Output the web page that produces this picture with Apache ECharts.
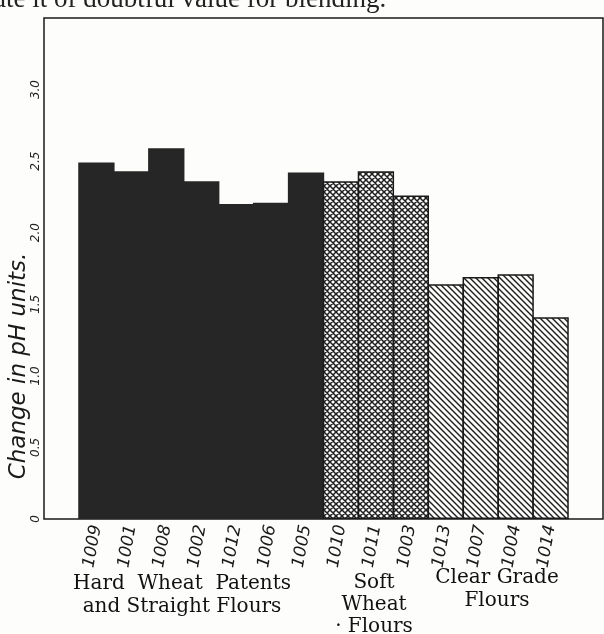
<!DOCTYPE html>
<html>
<head>
<meta charset="utf-8">
<script src="https://cdn.jsdelivr.net/npm/echarts@6/dist/echarts.min.js"></script>
<style>
html,body{margin:0;padding:0;background:#fdfdfc;}
#chart{width:604px;height:634px;}
</style>
</head>
<body>
<div id="chart"></div>
<script>
// ---- data ----
const categories = ['1009','1001','1008','1002','1012','1006','1005','1010','1011','1003','1013','1007','1004','1014'];
const hardValues = [2.49, 2.43, 2.59, 2.36, 2.20, 2.21, 2.42];
const softValues = [2.36, 2.43, 2.26];
const clearValues = [1.64, 1.69, 1.71, 1.41];
const yTickLabels = ['0', '0.5', '1.0', '1.5', '2.0', '2.5', '3.0'];
const groupNames = ['Hard  Wheat  Patents\nand Straight Flours', 'Soft\nWheat\n· Flours', 'Clear Grade\nFlours'];

// ---- patterns ----
function hatch(size, cross, lw) {
  const c = document.createElement('canvas');
  c.width = size; c.height = size;
  const g = c.getContext('2d');
  g.fillStyle = '#fbfbfa'; g.fillRect(0, 0, size, size);
  g.strokeStyle = '#1e1e1e'; g.lineWidth = lw;
  g.beginPath();
  g.moveTo(-1, -1); g.lineTo(size + 1, size + 1);
  g.moveTo(-1, size - 1); g.lineTo(1, size + 1);
  g.moveTo(size - 1, -1); g.lineTo(size + 1, 1);
  if (cross) {
    g.moveTo(-1, size + 1); g.lineTo(size + 1, -1);
    g.moveTo(-1, 1); g.lineTo(1, -1);
    g.moveTo(size - 1, size + 1); g.lineTo(size + 1, size - 1);
  }
  g.stroke();
  return c;
}
const crossPat = { image: hatch(6, true, 1.5), repeat: 'repeat' };
const diagPat = { image: hatch(6, false, 1.4), repeat: 'repeat' };

const xData = [''].concat(categories, ['']);
const nH = hardValues.length, nS = softValues.length;
function place(vals, offset) {
  const arr = new Array(xData.length).fill('-');
  vals.forEach((v, i) => { arr[1 + offset + i] = v; });
  return arr;
}

const chart = echarts.init(document.getElementById('chart'));
const option = {
  animation: false,
  backgroundColor: '#fdfdfc',
  grid: { left: 44, right: 1, top: 18, bottom: 115, show: true, borderColor: '#1a1a1a', borderWidth: 1.5, backgroundColor: 'transparent' },
  xAxis: {
    type: 'category',
    data: xData,
    boundaryGap: true,
    axisLine: { show: false },
    axisTick: { show: false },
    axisLabel: {
      interval: 0, rotate: 80, margin: 6,
      fontFamily: 'DejaVu Sans', fontStyle: 'italic', fontSize: 17, color: '#1a1a1a'
    }
  },
  yAxis: {
    type: 'value', min: 0, max: 3.5, interval: 0.5,
    splitLine: { show: false },
    axisLine: { show: false },
    axisTick: { show: false },
    axisLabel: {
      showMaxLabel: false, rotate: 90, margin: 2,
      fontFamily: 'DejaVu Sans', fontStyle: 'italic', fontSize: 12, color: '#222',
      formatter: (v) => { const i = Math.round(v / 0.5); return i < yTickLabels.length ? yTickLabels[i] : ''; }
    }
  },
  series: [
    { name: 'Hard', type: 'bar', data: place(hardValues, 0), barWidth: '104%', barGap: '-100%',
      itemStyle: { color: '#262626', borderWidth: 0 } },
    { name: 'Soft', type: 'bar', data: place(softValues, nH), barWidth: '104%', barGap: '-100%',
      itemStyle: { color: crossPat, borderColor: '#1a1a1a', borderWidth: 1.5 } },
    { name: 'Clear', type: 'bar', data: place(clearValues, nH + nS), barWidth: '104%', barGap: '-100%',
      itemStyle: { color: diagPat, borderColor: '#1a1a1a', borderWidth: 1.5 } }
  ],
  graphic: [
    { type: 'text', left: -6, top: -14, style: { text: 'ate it of doubtful value for blending.', font: '27px "Liberation Serif"', fill: '#222' } },
    { type: 'text', x: 19, y: 366, rotation: Math.PI / 2,
      style: { text: 'Change in pH units.', font: 'italic 23px "DejaVu Sans"', fill: '#1a1a1a', textAlign: 'center', textVerticalAlign: 'middle' } },
    { type: 'text', x: 182, y: 572, style: { text: groupNames[0], font: '20px "DejaVu Serif"', fill: '#111', textAlign: 'center', lineHeight: 23 } },
    { type: 'text', x: 374, y: 572, style: { text: groupNames[1], font: '20px "DejaVu Serif"', fill: '#111', textAlign: 'center', lineHeight: 22 } },
    { type: 'text', x: 497, y: 566, style: { text: groupNames[2], font: '20px "DejaVu Serif"', fill: '#111', textAlign: 'center', lineHeight: 23 } }
  ]
};
chart.setOption(option);
</script>
</body>
</html>
